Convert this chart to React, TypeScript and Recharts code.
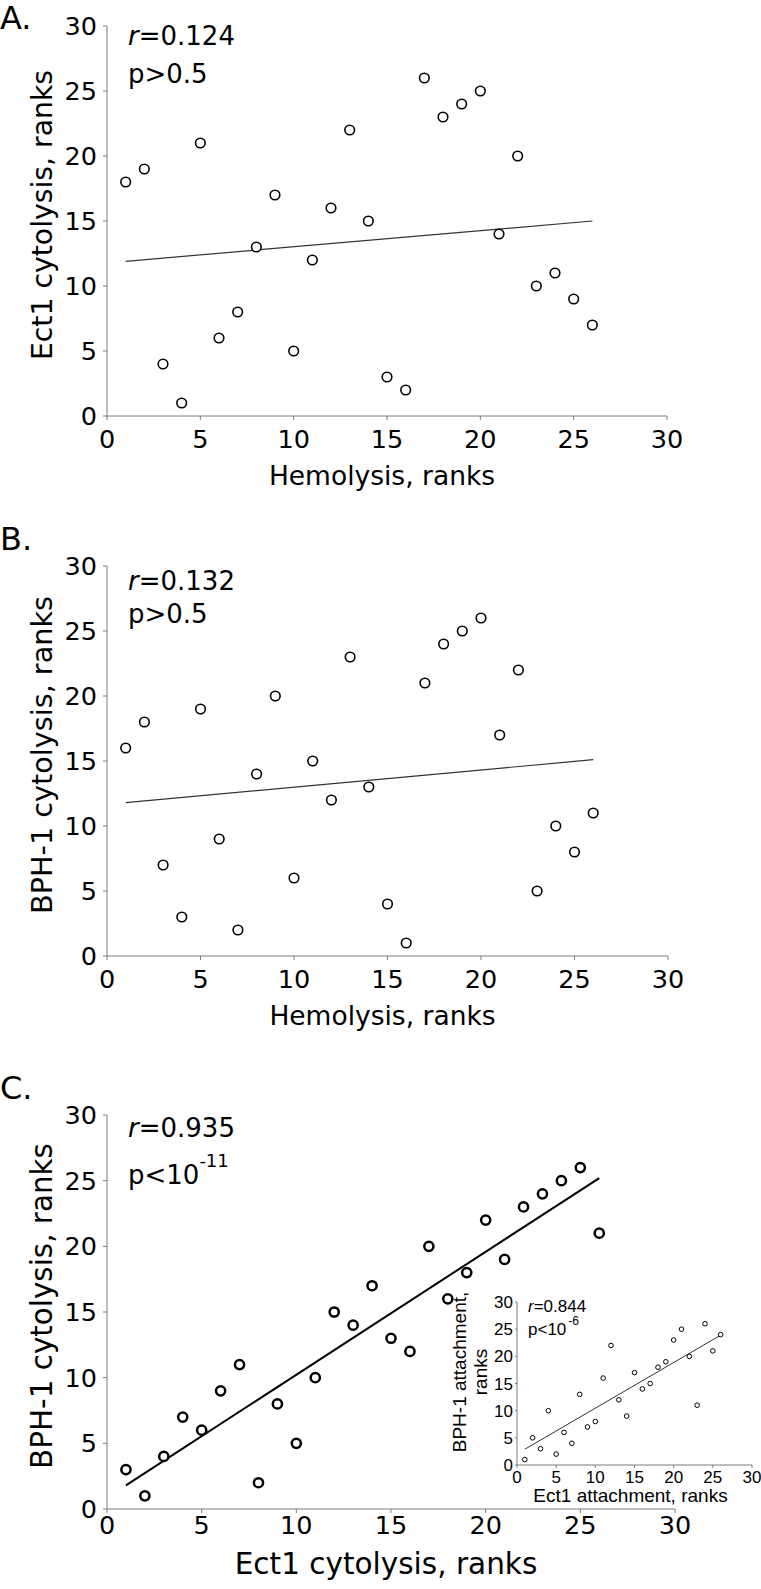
import { ReferenceLine, Scatter, ScatterChart, XAxis, YAxis } from "recharts";

const MAIN_FONT = "'DejaVu Sans', sans-serif";
const INSET_FONT = "'Liberation Sans', Arial, sans-serif";
const AXIS_GREY = "#7a7a7a";

// x positions are the same rank sequence in every panel
const RANKS = [1, 2, 3, 4, 5, 6, 7, 8, 9, 10, 11, 12, 13, 14, 15, 16, 17, 18, 19, 20, 21, 22, 23, 24, 25, 26];
const TICKS = [0, 5, 10, 15, 20, 25, 30];

// A. Ect1 cytolysis vs hemolysis
const ECT1_VS_HEMO = [18, 19, 4, 1, 21, 6, 8, 13, 17, 5, 12, 16, 22, 15, 3, 2, 26, 23, 24, 25, 14, 20, 10, 11, 9, 7];
// B. BPH-1 cytolysis vs hemolysis
const BPH1_VS_HEMO = [16, 18, 7, 3, 19, 9, 2, 14, 20, 6, 15, 12, 23, 13, 4, 1, 21, 24, 25, 26, 17, 22, 5, 10, 8, 11];
// C. BPH-1 cytolysis vs Ect1 cytolysis
const BPH1_VS_ECT1 = [3, 1, 4, 7, 6, 9, 11, 2, 8, 5, 10, 15, 14, 17, 13, 12, 20, 16, 18, 22, 19, 23, 24, 25, 26, 21];
// inset: BPH-1 attachment vs Ect1 attachment
const ATTACHMENT = [1, 5, 3, 10, 2, 6, 4, 13, 7, 8, 16, 22, 12, 9, 17, 14, 15, 18, 19, 23, 25, 20, 11, 26, 21, 24];

// fitted lines, endpoints
const TREND_A = [{ x: 1, y: 11.9 }, { x: 26, y: 15.0 }];
const TREND_B = [{ x: 1, y: 11.8 }, { x: 26, y: 15.1 }];
const TREND_C = [{ x: 1, y: 1.8 }, { x: 26, y: 25.2 }];
const TREND_INSET = [{ x: 1, y: 2.9 }, { x: 26, y: 23.9 }];

const toPoints = (ys: number[]) => RANKS.map((x, i) => ({ x, y: ys[i] }));

type PanelProps = {
  top: number;
  plotHeight: number;
  right: number;
  xAxisHeight: number;
  tickMargin: number;
  titleBaseline: number;
  xTitle: string;
  yTitle: string;
  xTitleSize: number;
  yTitleSize: number;
  ys: number[];
  trend: { x: number; y: number }[];
  bold?: boolean;
};

function Panel({
  top, plotHeight, right, xAxisHeight, tickMargin, titleBaseline,
  xTitle, yTitle, xTitleSize, yTitleSize, ys, trend, bold,
}: PanelProps) {
  const height = 26 + plotHeight + xAxisHeight;
  const tick = { fill: "#000", fontSize: 25.5, fontFamily: MAIN_FONT };
  const r = bold ? 4.6 : 4.8;
  const sw = bold ? 2.5 : 1.6;

  return (
    <div style={{ position: "absolute", left: 0, top, width: 761, height }}>
      <ScatterChart width={761} height={height} margin={{ top: 26, right, bottom: 0, left: 0 }}>
        <XAxis
          type="number"
          dataKey="x"
          domain={[0, 30]}
          ticks={TICKS}
          interval={0}
          height={xAxisHeight}
          axisLine={{ stroke: AXIS_GREY }}
          tickLine={{ stroke: AXIS_GREY }}
          tickSize={4}
          tickMargin={tickMargin}
          tick={tick}
          label={(p: any) => (
            <text
              x={p.viewBox.x + p.viewBox.width / 2 - 5}
              y={p.viewBox.y + titleBaseline}
              textAnchor="middle"
              fontSize={xTitleSize}
              fontFamily={MAIN_FONT}
              fill="#000"
            >
              {xTitle}
            </text>
          )}
        />
        <YAxis
          type="number"
          dataKey="y"
          domain={[0, 30]}
          ticks={TICKS}
          interval={0}
          width={107}
          axisLine={{ stroke: AXIS_GREY }}
          tickLine={{ stroke: AXIS_GREY }}
          tickSize={4}
          tickMargin={6}
          tick={tick}
          label={(p: any) => (
            <text
              transform={`translate(${p.viewBox.x + 52},${p.viewBox.y + p.viewBox.height / 2 - 6}) rotate(-90)`}
              textAnchor="middle"
              fontSize={yTitleSize}
              fontFamily={MAIN_FONT}
              fill="#000"
            >
              {yTitle}
            </text>
          )}
        />
        <ReferenceLine
          segment={trend}
          stroke={bold ? "#000" : "#333"}
          strokeWidth={bold ? 2 : 1.2}
          ifOverflow="visible"
        />
        <Scatter
          data={toPoints(ys)}
          isAnimationActive={false}
          shape={(p: any) => <circle cx={p.cx} cy={p.cy} r={r} fill="#fff" stroke="#000" strokeWidth={sw} />}
        />
      </ScatterChart>
    </div>
  );
}

function Inset() {
  const tick = { fill: "#000", fontSize: 17, fontFamily: INSET_FONT };
  return (
    <div style={{ position: "absolute", left: 440, top: 1290, width: 321, height: 230 }}>
      <ScatterChart width={321} height={230} margin={{ top: 12, right: 9, bottom: 0, left: 0 }}>
        <XAxis
          type="number"
          dataKey="x"
          domain={[0, 30]}
          ticks={TICKS}
          interval={0}
          height={55}
          axisLine={{ stroke: AXIS_GREY }}
          tickLine={{ stroke: AXIS_GREY }}
          tickSize={3}
          tickMargin={3}
          tick={tick}
          label={(p: any) => (
            <text
              x={p.viewBox.x + p.viewBox.width / 2 - 4}
              y={p.viewBox.y + 37}
              textAnchor="middle"
              fontSize={19}
              fontFamily={INSET_FONT}
              fill="#000"
            >
              Ect1 attachment, ranks
            </text>
          )}
        />
        <YAxis
          type="number"
          dataKey="y"
          domain={[0, 30]}
          ticks={TICKS}
          interval={0}
          width={77}
          axisLine={{ stroke: AXIS_GREY }}
          tickLine={{ stroke: AXIS_GREY }}
          tickSize={2}
          tickMargin={2}
          tick={tick}
          label={(p: any) => {
            const cy = p.viewBox.y + 70;
            return (
              <g fontSize={19} fontFamily={INSET_FONT} fill="#000" textAnchor="middle">
                <text transform={`translate(${p.viewBox.x + 26},${cy}) rotate(-90)`}>BPH-1 attachment,</text>
                <text transform={`translate(${p.viewBox.x + 47},${cy}) rotate(-90)`}>ranks</text>
              </g>
            );
          }}
        />
        <ReferenceLine segment={TREND_INSET} stroke="#333" strokeWidth={1} ifOverflow="visible" />
        <Scatter
          data={toPoints(ATTACHMENT)}
          isAnimationActive={false}
          shape={(p: any) => <circle cx={p.cx} cy={p.cy} r={2.3} fill="#fff" stroke="#000" strokeWidth={1} />}
        />
      </ScatterChart>
    </div>
  );
}

// panel letters and the r / p annotations
function Notes() {
  const big = { fontFamily: MAIN_FONT, fill: "#000" };
  return (
    <svg
      width={761}
      height={1589}
      style={{ position: "absolute", left: 0, top: 0, pointerEvents: "none" }}
    >
      <g {...big}>
        <text x={0} y={29} fontSize={32}>A.</text>
        <text x={128} y={45} fontSize={26}><tspan fontStyle="italic">r</tspan>=0.124</text>
        <text x={128} y={83} fontSize={26}>p&gt;0.5</text>

        <text x={0} y={550} fontSize={32}>B.</text>
        <text x={128} y={590} fontSize={26}><tspan fontStyle="italic">r</tspan>=0.132</text>
        <text x={128} y={623} fontSize={26}>p&gt;0.5</text>

        <text x={0} y={1099} fontSize={32}>C.</text>
        <text x={128} y={1137} fontSize={26}><tspan fontStyle="italic">r</tspan>=0.935</text>
        <text x={128} y={1184} fontSize={26}>
          p&lt;10<tspan fontSize={18} dy={-17}>-11</tspan>
        </text>
      </g>
      <g fontFamily={INSET_FONT} fill="#000">
        <text x={528} y={1312} fontSize={17}><tspan fontStyle="italic">r</tspan>=0.844</text>
        <text x={528} y={1335} fontSize={17}>
          p&lt;10<tspan fontSize={12} dy={-10} dx={2}>-6</tspan>
        </text>
      </g>
    </svg>
  );
}

export default function App() {
  return (
    <div style={{ position: "absolute", left: 0, top: 0, width: 761, height: 1589, background: "#fff" }}>
      <Panel
        top={0}
        plotHeight={390}
        right={94}
        xAxisHeight={84}
        tickMargin={10}
        titleBaseline={69}
        xTitle="Hemolysis, ranks"
        yTitle="Ect1 cytolysis, ranks"
        xTitleSize={26.5}
        yTitleSize={28.3}
        ys={ECT1_VS_HEMO}
        trend={TREND_A}
      />
      <Panel
        top={540}
        plotHeight={390}
        right={93}
        xAxisHeight={84}
        tickMargin={10}
        titleBaseline={69}
        xTitle="Hemolysis, ranks"
        yTitle="BPH-1 cytolysis, ranks"
        xTitleSize={26.5}
        yTitleSize={28.7}
        ys={BPH1_VS_HEMO}
        trend={TREND_B}
      />
      <Panel
        top={1089}
        plotHeight={394}
        right={86}
        xAxisHeight={80}
        tickMargin={3}
        titleBaseline={65}
        xTitle="Ect1 cytolysis, ranks"
        yTitle="BPH-1 cytolysis, ranks"
        xTitleSize={29.5}
        yTitleSize={29.4}
        ys={BPH1_VS_ECT1}
        trend={TREND_C}
        bold
      />
      <Inset />
      <Notes />
    </div>
  );
}
